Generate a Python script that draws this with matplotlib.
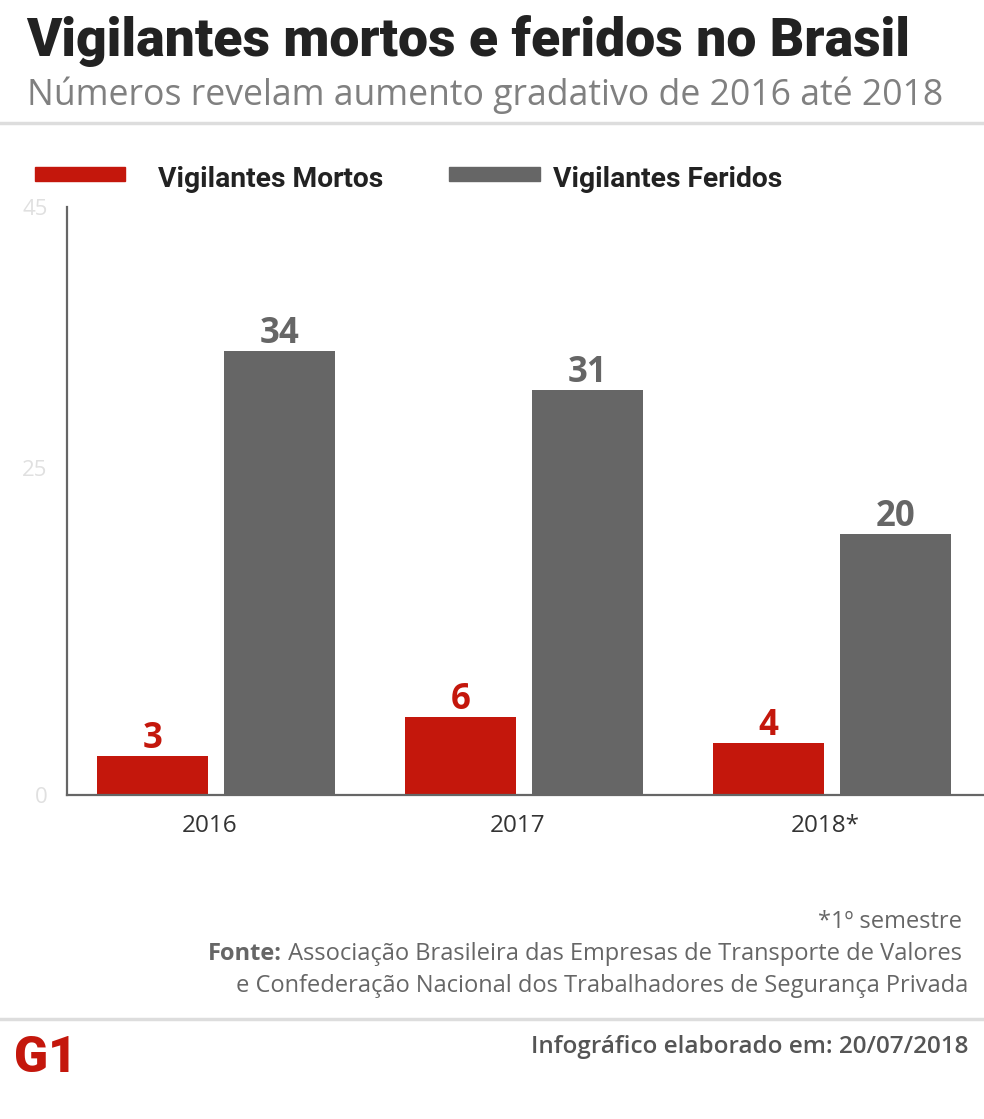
import numpy as np
import matplotlib.pyplot as plt
from matplotlib.patches import Rectangle

# Data
years = ['2016', '2017', '2018*']
mortos = [3, 6, 4]
feridos = [34, 31, 20]
y_ticks = [0, 25, 45]

RED = '#c4170c'
GRAY = '#666666'

W, H = 984, 1119
fig = plt.figure(figsize=(W / 100, H / 100), dpi=100)


def fx(px):
    return px / W


def fy(py):
    return 1 - py / H


# Header
fig.text(fx(26), fy(56), 'Vigilantes mortos e feridos no Brasil', family='Roboto',
         weight='black', fontsize=38.5, color='#222222')
fig.text(fx(27), fy(105), 'Números revelam aumento gradativo de 2016 até 2018',
         family='Open Sans', fontsize=25.7, color='#808080')
fig.add_artist(plt.Line2D([0, 1], [fy(123), fy(123)], color='#dddddd', lw=2.5))

# Legend
fig.add_artist(Rectangle((fx(35), fy(181)), fx(90), 14 / H, color=RED))
fig.text(fx(158), fy(187), 'Vigilantes Mortos', family='Roboto', weight='bold',
         fontsize=20.3, color='#222222')
fig.add_artist(Rectangle((fx(449), fy(181)), fx(91), 14 / H, color=GRAY))
fig.text(fx(553), fy(187), 'Vigilantes Feridos', family='Roboto', weight='bold',
         fontsize=20.3, color='#222222')

# Chart
ax = fig.add_axes([fx(67), fy(795), 1 - fx(67), fy(207) - fy(795)])
x = np.arange(len(years))
bw = 0.36
off = 0.206
ax.bar(x - off, mortos, bw, color=RED)
ax.bar(x + off, feridos, bw, color=GRAY)

for xi, v in zip(x, mortos):
    ax.text(xi - off, v + 0.6, str(v), ha='center', va='baseline', family='Open Sans',
            weight='bold', fontsize=25, color=RED)
for xi, v in zip(x, feridos):
    ax.text(xi + off, v + 0.6, str(v), ha='center', va='baseline', family='Open Sans',
            weight='bold', fontsize=25, color=GRAY)

ax.set_xlim(-0.484, 2.494)
ax.set_ylim(0, 45)
ax.set_yticks(y_ticks)
ax.set_yticklabels([str(t) for t in y_ticks], family='Open Sans', fontsize=16,
                   color='#e0e0e0')
ax.set_xticks(x - 0.02)
ax.set_xticklabels(years, family='Open Sans', fontsize=17.5, color='#333333')
ax.tick_params(length=0)
ax.tick_params(axis='x', pad=14)
ax.tick_params(axis='y', pad=14)
for s in ['top', 'right']:
    ax.spines[s].set_visible(False)
for s in ['left', 'bottom']:
    ax.spines[s].set_color('#666666')
    ax.spines[s].set_linewidth(1.6)

# Footer
foot = dict(family='Open Sans', fontsize=17, color='#666666', ha='right')
fig.text(fx(962), fy(928), '*1º semestre', **foot)
src = fig.text(fx(962), fy(960), ' Associação Brasileira das Empresas de Transporte de Valores', **foot)
fig.text(fx(968), fy(992), 'e Confederação Nacional dos Trabalhadores de Segurança Privada', **foot)
fig.canvas.draw()
bb = src.get_window_extent()
fig.text(bb.x0 / W, fy(960), 'Fonte:', family='Open Sans', weight='bold', fontsize=17,
         color='#666666', ha='right')
fig.add_artist(plt.Line2D([0, 1], [fy(1019), fy(1019)], color='#dddddd', lw=2.5))
fig.text(fx(968), fy(1053), 'Infográfico elaborado em: 20/07/2018', family='Open Sans',
         weight='semibold', fontsize=17.5, color='#555555', ha='right')
fig.text(fx(14), fy(1072), 'G1', family='Roboto', weight='black',
         fontsize=36, color=RED)

fig.savefig('out.png', dpi=100)
